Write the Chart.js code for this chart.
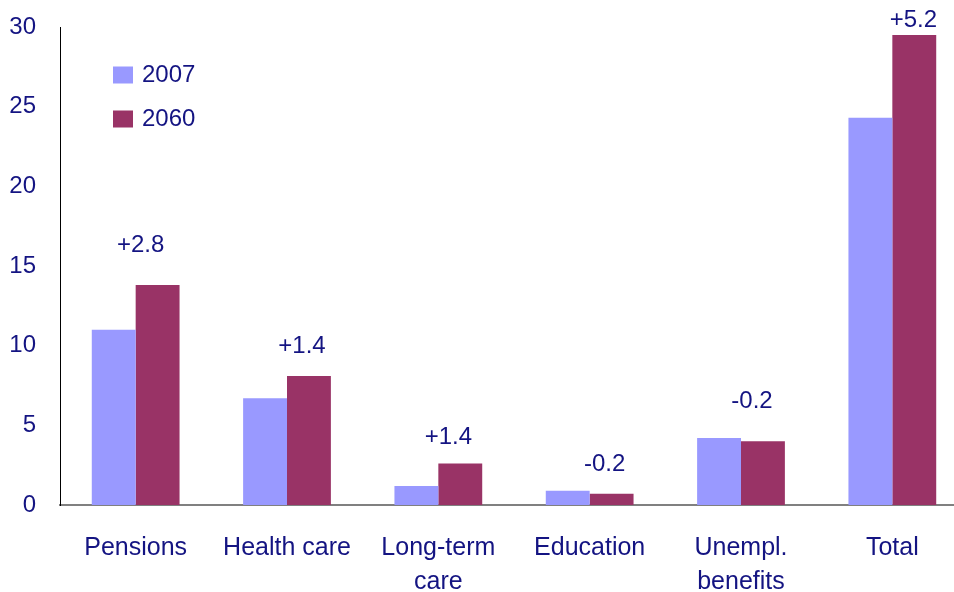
<!DOCTYPE html>
<html>
<head>
<meta charset="utf-8">
<title>Age-related spending, 2007 and 2060</title>
<script src="https://cdn.jsdelivr.net/npm/chart.js@4/dist/chart.umd.min.js"></script>
<style>
  html, body { margin: 0; padding: 0; background: #fff; overflow: hidden; }
  #wrap { width: 970px; height: 592px; }
</style>
</head>
<body>
<div id="wrap"><canvas id="chart" width="970" height="592"></canvas></div>
<script>
const categories = ["Pensions", "Health care", ["Long-term", "care"], "Education", ["Unempl.", "benefits"], "Total"];
const years = ["2007", "2060"];
const values2007 = [11.0, 6.7, 1.2, 0.9, 4.2, 24.3];
const values2060 = [13.8, 8.1, 2.6, 0.7, 4.0, 29.5];
const yTicks = [0, 5, 10, 15, 20, 25, 30];

const textColor = "#141482";
const fontFamily = "'Liberation Sans', Arial, sans-serif";

// change between the two years, written above each pair of bars
const changeLabels = {
  id: "changeLabels",
  afterDatasetsDraw(chart, args, opts) {
    const { ctx, scales } = chart;
    const a = chart.data.datasets[0].data;
    const b = chart.data.datasets[1].data;
    ctx.save();
    ctx.font = "24px " + fontFamily;
    ctx.fillStyle = textColor;
    ctx.textAlign = "center";
    ctx.textBaseline = "middle";
    a.forEach((v, i) => {
      const diff = b[i] - v;
      const text = (diff >= 0 ? "+" : "") + diff.toFixed(1);
      const top = Math.min(scales.y.getPixelForValue(v), scales.y.getPixelForValue(b[i]));
      const x = scales.x.getPixelForValue(i) + opts.shift[i];
      const y = Math.max(top - opts.lift[i], 19);
      ctx.fillText(text, x, y);
    });
    ctx.restore();
  }
};

// legend inside the plot area, top left
const innerLegend = {
  id: "innerLegend",
  afterDraw(chart, args, opts) {
    const { ctx } = chart;
    ctx.save();
    ctx.font = "24px " + fontFamily;
    ctx.textBaseline = "middle";
    ctx.textAlign = "left";
    chart.data.datasets.forEach((ds, i) => {
      const y = opts.top + i * opts.gap;
      ctx.fillStyle = ds.backgroundColor;
      ctx.fillRect(opts.left, y - 8.5, 20, 17);
      ctx.fillStyle = textColor;
      ctx.fillText(ds.label, opts.left + 29, y);
    });
    ctx.restore();
  }
};

new Chart(document.getElementById("chart"), {
  type: "bar",
  data: {
    labels: categories,
    datasets: [
      { label: years[0], data: values2007, backgroundColor: "#9999ff" },
      { label: years[1], data: values2060, backgroundColor: "#993366" }
    ]
  },
  options: {
    responsive: false,
    animation: false,
    categoryPercentage: 0.58,
    barPercentage: 1.0,
    layout: { padding: { top: 27, right: 2, bottom: 0, left: 0 } },
    plugins: {
      legend: { display: false },
      tooltip: { enabled: false },
      changeLabels: {
        shift: [5, 15, 10, 15, 11, 21],
        lift: [40, 30, 26, 26, 37, 15]
      },
      innerLegend: { left: 113, top: 75, gap: 44 }
    },
    scales: {
      x: {
        grid: { display: false, drawTicks: false },
        border: { color: "#808080", width: 2 },
        ticks: {
          color: textColor,
          font: { family: fontFamily, size: 25, lineHeight: 1.36 },
          padding: 26,
          maxRotation: 0,
          autoSkip: false
        },
        afterFit(scale) { scale.height = 87; }
      },
      y: {
        min: 0,
        max: 30,
        grid: { display: false, drawTicks: false },
        border: { color: "#000000", width: 1 },
        afterBuildTicks(scale) { scale.ticks = yTicks.map(v => ({ value: v })); },
        ticks: {
          color: textColor,
          font: { family: fontFamily, size: 24 },
          padding: 24
        },
        afterFit(scale) {
          scale.width = 60;
          scale.paddingTop = 0;
          scale.paddingBottom = 0;
        }
      }
    }
  },
  plugins: [changeLabels, innerLegend]
});
</script>
</body>
</html>
